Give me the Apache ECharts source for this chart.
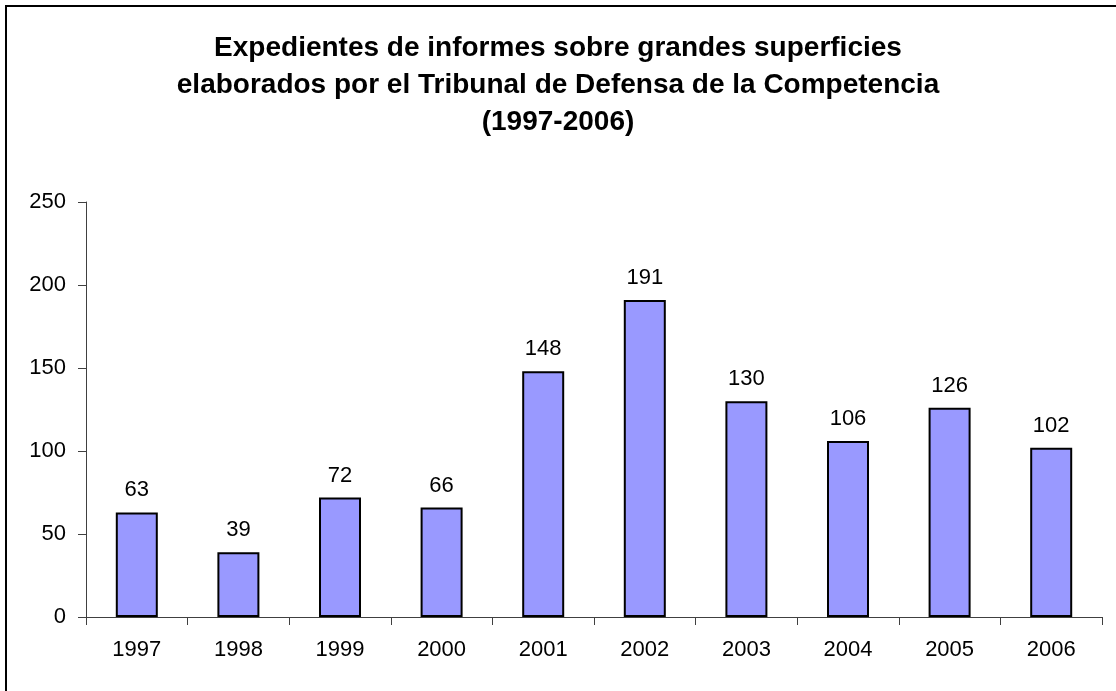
<!DOCTYPE html>
<html>
<head>
<meta charset="utf-8">
<script src="https://cdn.jsdelivr.net/npm/echarts@6/dist/echarts.min.js"></script>
<style>
  html, body { margin: 0; padding: 0; background: #fff; }
  #chart { width: 1116px; height: 691px; }
</style>
</head>
<body>
<div id="chart"></div>
<script>
var years = ['1997', '1998', '1999', '2000', '2001', '2002', '2003', '2004', '2005', '2006'];
var expedientes = [63, 39, 72, 66, 148, 191, 130, 106, 126, 102];
var titleText = 'Expedientes de informes sobre grandes superficies\nelaborados por el Tribunal de Defensa de la Competencia\n(1997-2006)';

var myChart = echarts.init(document.getElementById('chart'));

var option = {
    backgroundColor: '#fff',
    animation: false,
    textStyle: {
        fontFamily: 'Liberation Sans, Arial, sans-serif'
    },
    title: {
        text: titleText,
        left: 'center',
        top: 25,
        textStyle: {
            fontSize: 28,
            fontWeight: 'bold',
            color: '#000',
            lineHeight: 37,
            fontFamily: 'Liberation Sans, Arial, sans-serif'
        }
    },
    // outer frame of the chart area
    graphic: [{
        type: 'rect',
        shape: { x: 6, y: 6, width: 1120, height: 700 },
        style: { fill: 'none', stroke: '#000', lineWidth: 2 },
        silent: true
    }],
    grid: {
        top: 202,
        left: 86,
        right: 14,
        bottom: 74
    },
    xAxis: {
        type: 'category',
        data: years,
        axisLine: { lineStyle: { color: '#404040', width: 1 } },
        axisTick: { show: true, length: 8, lineStyle: { color: '#404040' } },
        axisLabel: { color: '#000', fontSize: 22, margin: 22 }
    },
    yAxis: {
        type: 'value',
        min: 0,
        max: 250,
        interval: 50,
        axisLine: { show: true, lineStyle: { color: '#404040', width: 1 } },
        axisTick: { show: true, length: 8, lineStyle: { color: '#404040' } },
        axisLabel: { color: '#000', fontSize: 22, margin: 20 },
        splitLine: { show: false }
    },
    series: [{
        type: 'bar',
        data: expedientes,
        barWidth: 42,
        itemStyle: {
            color: '#9999FF',
            borderColor: '#000',
            borderWidth: 2
        },
        label: {
            show: true,
            position: 'top',
            distance: 11,
            color: '#000',
            fontSize: 22
        }
    }]
};

myChart.setOption(option);
</script>
</body>
</html>
